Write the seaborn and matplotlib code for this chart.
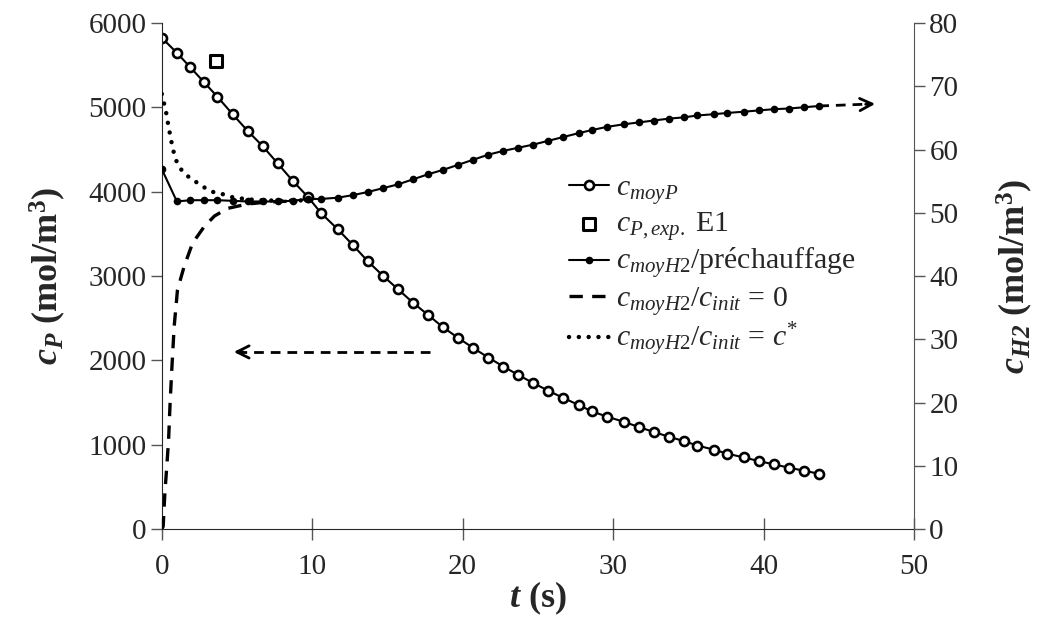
import numpy as np
import pandas as pd
import seaborn as sns
import matplotlib.pyplot as plt

sns.set_style('ticks')
plt.rcParams['font.family'] = ['Liberation Serif', 'DejaVu Serif']
plt.rcParams['mathtext.fontset'] = 'custom'
plt.rcParams['mathtext.rm'] = 'Liberation Serif'
plt.rcParams['mathtext.it'] = 'Liberation Serif:italic'
plt.rcParams['mathtext.bf'] = 'Liberation Serif:bold'
plt.rcParams['mathtext.bfit'] = 'Liberation Serif:italic:bold'

# temps commun (s)
t = [0.0, 1.0, 1.9, 2.8, 3.7, 4.7, 5.7, 6.7, 7.7, 8.7, 9.7, 10.6, 11.7, 12.7, 13.7,
     14.7, 15.7, 16.7, 17.7, 18.7, 19.7, 20.7, 21.7, 22.7, 23.7, 24.7, 25.7, 26.7,
     27.7, 28.6, 29.6, 30.7, 31.7, 32.7, 33.7, 34.7, 35.6, 36.7, 37.6, 38.7, 39.7,
     40.7, 41.7, 42.7, 43.7]

# c_moyP (axe gauche)
c_moyP = [5826, 5648, 5475, 5301, 5126, 4921, 4723, 4542, 4337, 4130, 3941, 3744,
          3554, 3368, 3174, 3004, 2843, 2684, 2538, 2392, 2266, 2147, 2034, 1927,
          1826, 1730, 1639, 1553, 1471, 1394, 1332, 1272, 1210, 1150, 1095, 1042,
          990, 940, 893, 848, 805, 765, 727, 690, 655]

# point experimental E1
t_exp = [3.6]
c_exp = [5550]

# c_moyH2 / prechauffage (axe droit)
c_H2_pre = [56.9, 51.8, 52.0, 52.0, 52.0, 51.9, 51.8, 51.8, 51.8, 51.9, 52.2, 52.2,
            52.4, 52.8, 53.3, 53.9, 54.5, 55.3, 56.1, 56.8, 57.6, 58.4, 59.2, 59.8,
            60.3, 60.8, 61.4, 62.0, 62.6, 63.1, 63.6, 64.0, 64.3, 64.6, 64.9, 65.1,
            65.4, 65.6, 65.8, 66.0, 66.2, 66.4, 66.5, 66.7, 66.9]

# c_init = 0
t_zero = [0.0, 0.09, 0.2, 0.33, 0.45, 0.55, 0.66, 0.82, 1.04, 1.48, 2.04, 2.81, 3.5,
          4.37, 5.7, 7.0, 9.0]
c_H2_zero = [0.0, 0.4, 5.6, 9.9, 14.1, 19.9, 25.1, 32.0, 37.8, 41.5, 45.2, 47.8, 49.5,
             50.7, 51.4, 51.7, 51.9]

# c_init = c*
t_star = [0.0, 0.18, 0.31, 0.42, 0.53, 0.66, 0.80, 1.0, 1.33, 1.82, 2.33, 2.84, 3.41,
          3.99, 4.63, 5.5, 6.5, 8.0, 10.0]
c_H2_star = [68.8, 67.0, 65.6, 64.0, 62.6, 61.0, 59.5, 58.0, 56.7, 55.6, 54.8, 54.0,
             53.3, 53.0, 52.5, 52.2, 52.0, 51.9, 52.0]

dfP = pd.DataFrame({'t': t, 'c': c_moyP})
dfE = pd.DataFrame({'t': t_exp, 'c': c_exp})
dfH = pd.DataFrame({'t': t, 'c': c_H2_pre})
dfZ = pd.DataFrame({'t': t_zero, 'c': c_H2_zero})
dfS = pd.DataFrame({'t': t_star, 'c': c_H2_star})

fig = plt.figure(figsize=(10.44, 6.26), dpi=100)
ax = fig.add_axes([0.155, 0.155, 0.7205, 0.808])
ax2 = ax.twinx()

sns.lineplot(data=dfP, x='t', y='c', ax=ax, color='black', lw=1.5, marker='o',
             markersize=6.5, markerfacecolor='white', markeredgecolor='black',
             markeredgewidth=1.9, label=r'$c_{moyP}$', estimator=None)
sns.scatterplot(data=dfE, x='t', y='c', ax=ax, marker='s', s=70, facecolor='white',
                edgecolor='black', linewidth=2.2, label=r'$c_{P,exp.}$ E1', zorder=5)

sns.lineplot(data=dfH, x='t', y='c', ax=ax2, color='black', lw=1.5, marker='o',
             markersize=5.5, markeredgewidth=0, label=r'$c_{moyH2}$/préchauffage',
             estimator=None)
sns.lineplot(data=dfZ, x='t', y='c', ax=ax2, color='black', lw=2.4,
             linestyle=(0, (4, 2.8)), label=r'$c_{moyH2}/c_{init}$ = 0', estimator=None)
sns.lineplot(data=dfS, x='t', y='c', ax=ax2, color='black', lw=3.2,
             linestyle=(0, (0.01, 2.2)), dash_capstyle='round',
             label=r'$c_{moyH2}/c_{init}$ = $c^{*}$', estimator=None)

# fleches
ax.plot([17.8, 4.9], [2100, 2100], color='black', lw=2, ls=(0, (3.5, 2.5)))
ax.annotate('', xy=(4.6, 2100), xytext=(5.6, 2100),
            arrowprops=dict(arrowstyle='->', lw=2, color='black', mutation_scale=22))
ax2.plot([43.7, 47.0], [66.9, 67.2], color='black', lw=2, ls=(0, (3.5, 2.5)))
ax2.annotate('', xy=(47.6, 67.25), xytext=(46.6, 67.15),
             arrowprops=dict(arrowstyle='->', lw=2, color='black', mutation_scale=22))

ax.set_xlim(0, 50)
ax.set_ylim(0, 6000)
ax2.set_ylim(0, 80)
ax.set_xticks(range(0, 51, 10))
ax.set_yticks(range(0, 6001, 1000))
ax2.set_yticks(range(0, 81, 10))

for a in (ax, ax2):
    a.tick_params(labelsize=21, width=1, length=8, color='#555555', pad=3)
    a.spines['top'].set_visible(False)
ax.tick_params(axis='x', direction='inout', length=16, pad=10)
ax.spines['right'].set_visible(False)
ax2.spines['right'].set_color('#555555')
ax2.spines['left'].set_visible(False)
ax2.spines['bottom'].set_visible(False)

ax.set_xlabel(r'$\mathbfit{t}$ (s)', fontsize=26, fontweight='bold', labelpad=0)
ax.set_ylabel(r'$\mathbfit{c}_{\mathbfit{P}}$ (mol/m$^{\mathbf{3}}$)', fontsize=26,
              fontweight='bold', labelpad=15)
ax2.set_ylabel(r'$\mathbfit{c}_{\mathbfit{H2}}$ (mol/m$^{\mathbf{3}}$)', fontsize=26,
               fontweight='bold', rotation=90, labelpad=26)

h1, l1 = ax.get_legend_handles_labels()
h2, l2 = ax2.get_legend_handles_labels()
if ax.get_legend() is not None:
    ax.get_legend().remove()
if ax2.get_legend() is not None:
    ax2.get_legend().remove()
leg = ax2.legend(h1 + h2, l1 + l2, loc='upper left', bbox_to_anchor=(0.521, 0.73),
                 frameon=False, fontsize=21.5, handlelength=1.34, handletextpad=0.25,
                 labelspacing=0.11, borderpad=0)

fig.savefig('out.png', dpi=100)
